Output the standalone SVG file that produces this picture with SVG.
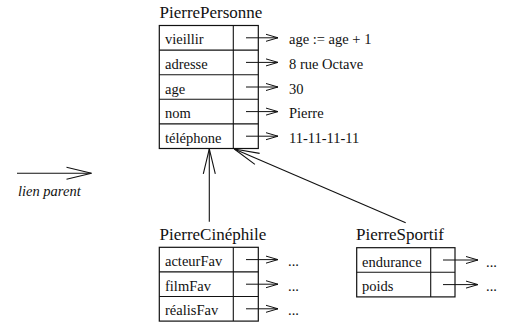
<svg xmlns="http://www.w3.org/2000/svg" width="508" height="326" viewBox="0 0 508 326">
  <style>
    text { font-family: "Liberation Serif", "Times New Roman", serif; fill: #111; }
    .title { font-size: 17px; }
    .field { font-size: 14.5px; }
    .legend { font-size: 14.5px; font-style: italic; }
    .box { fill: #fff; stroke: #111; stroke-width: 1.2; }
    .div { stroke: #111; stroke-width: 1.1; }
    .ptr { stroke: #111; stroke-width: 1; fill: none; marker-end: url(#small); }
    .link { stroke: #111; stroke-width: 1.1; fill: none; marker-end: url(#big); }
  </style>
  <defs>
    <marker id="small" markerUnits="userSpaceOnUse" viewBox="-14 -6 16 12" markerWidth="16" markerHeight="12" refX="0" refY="0" orient="auto" overflow="visible">
      <path d="M-12,-3.5 L0,0 L-12,3.5" fill="none" stroke="#111" stroke-width="1"/>
    </marker>
    <marker id="big" markerUnits="userSpaceOnUse" viewBox="-27 -8 29 16" markerWidth="29" markerHeight="16" refX="0" refY="0" orient="auto" overflow="visible">
      <path d="M-25,-6 L0,0 L-25,6" fill="none" stroke="#111" stroke-width="1.1"/>
    </marker>
  </defs>

  <!-- legend -->
  <g id="legend">
    <line class="link" x1="17" y1="173.3" x2="91.5" y2="173.3"/>
    <text class="legend" x="18" y="196">lien parent</text>
  </g>

  <!-- parent object -->
  <g id="PierrePersonne">
    <text class="title" x="159.5" y="17.5">PierrePersonne</text>
    <rect class="box" x="159.3" y="25.5" width="99" height="123"/>
    <line class="div" x1="233.3" y1="25.5" x2="233.3" y2="148.5"/>
    <line class="div" x1="159.3" y1="50.1" x2="258.3" y2="50.1"/>
    <line class="div" x1="159.3" y1="74.7" x2="258.3" y2="74.7"/>
    <line class="div" x1="159.3" y1="99.3" x2="258.3" y2="99.3"/>
    <line class="div" x1="159.3" y1="123.9" x2="258.3" y2="123.9"/>
    <text class="field" x="165" y="44.3">vieillir</text>
    <text class="field" x="165" y="68.9">adresse</text>
    <text class="field" x="165" y="93.5">age</text>
    <text class="field" x="165" y="118.1">nom</text>
    <text class="field" x="165" y="142.7">téléphone</text>
    <text class="field" x="289" y="44.3">age := age + 1</text>
    <text class="field" x="289" y="68.9">8 rue Octave</text>
    <text class="field" x="289" y="93.5">30</text>
    <text class="field" x="289" y="118.1">Pierre</text>
    <text class="field" x="289" y="142.7">11-11-11-11</text>
  </g>

  <g id="PierreCinephile">
    <text class="title" x="159.5" y="240">PierreCinéphile</text>
    <rect class="box" x="159.3" y="247.3" width="99" height="73.8"/>
    <line class="div" x1="233.3" y1="247.3" x2="233.3" y2="321.1"/>
    <line class="div" x1="159.3" y1="271.9" x2="258.3" y2="271.9"/>
    <line class="div" x1="159.3" y1="296.5" x2="258.3" y2="296.5"/>
    <text class="field" x="165" y="266.1">acteurFav</text>
    <text class="field" x="165" y="290.7">filmFav</text>
    <text class="field" x="165" y="315.3">réalisFav</text>
    <text class="field" x="288" y="266.1">...</text>
    <text class="field" x="288" y="290.7">...</text>
    <text class="field" x="288" y="315.3">...</text>
  </g>

  <g id="PierreSportif">
    <text class="title" x="356" y="240">PierreSportif</text>
    <rect class="box" x="356.7" y="247.7" width="98.3" height="49.2"/>
    <line class="div" x1="430.7" y1="247.7" x2="430.7" y2="296.9"/>
    <line class="div" x1="356.7" y1="272.3" x2="455" y2="272.3"/>
    <text class="field" x="362" y="266.5">endurance</text>
    <text class="field" x="362" y="291.1">poids</text>
    <text class="field" x="486" y="266.5">...</text>
    <text class="field" x="486" y="291.1">...</text>
  </g>

  <!-- slot pointers and parent links -->
  <g id="connectors">
    <line class="ptr" x1="246" y1="37.8" x2="278" y2="37.8"/>
    <line class="ptr" x1="246" y1="62.4" x2="278" y2="62.4"/>
    <line class="ptr" x1="246" y1="87" x2="278" y2="87"/>
    <line class="ptr" x1="246" y1="111.6" x2="278" y2="111.6"/>
    <line class="ptr" x1="246" y1="136.2" x2="278" y2="136.2"/>
    <line class="ptr" x1="246" y1="259.6" x2="278" y2="259.6"/>
    <line class="ptr" x1="246" y1="284.2" x2="278" y2="284.2"/>
    <line class="ptr" x1="246" y1="308.8" x2="278" y2="308.8"/>
    <line class="ptr" x1="443" y1="260" x2="478" y2="260"/>
    <line class="ptr" x1="443" y1="284.6" x2="478" y2="284.6"/>
    <line class="link" x1="209.3" y1="221.7" x2="209.3" y2="148.8"/>
    <line class="link" x1="405.7" y1="222.7" x2="234.3" y2="149"/>
  </g>
</svg>
